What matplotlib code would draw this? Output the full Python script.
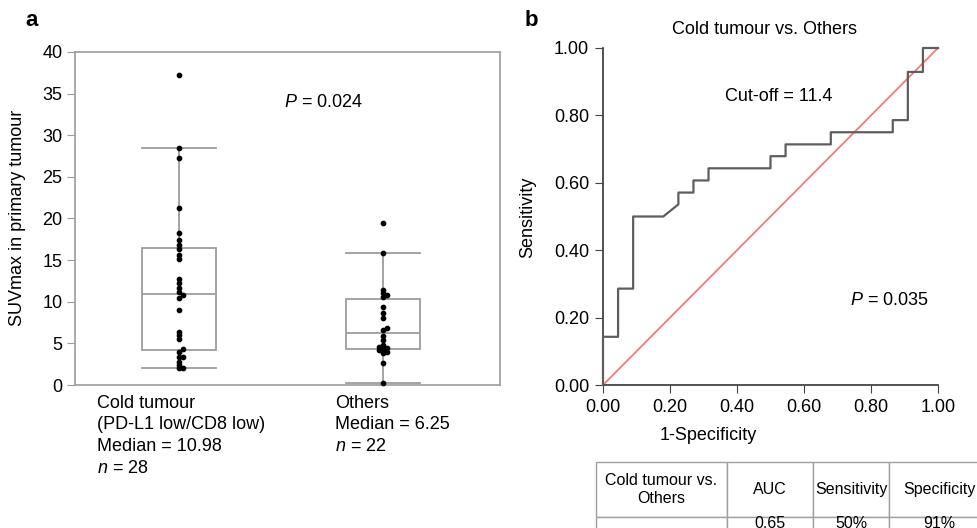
import matplotlib
matplotlib.use('Agg')
import matplotlib.pyplot as plt
import numpy as np

plt.rcParams['font.family'] = ['Liberation Sans', 'DejaVu Sans']
plt.rcParams['mathtext.fontset'] = 'custom'
plt.rcParams['mathtext.it'] = 'Liberation Sans:italic'
plt.rcParams['mathtext.rm'] = 'Liberation Sans'

# ---------------- data ----------------
cold_suv = [2.0, 2.0, 2.4, 2.8, 3.4, 3.4, 4.0, 4.3, 5.5, 6.0, 6.4, 9.0, 10.4, 10.76,
            11.2, 11.7, 12.2, 12.7, 15.1, 15.6, 16.3, 16.8, 17.4, 18.2, 21.3, 27.3,
            28.5, 37.2]
others_suv = [0.2, 2.6, 3.9, 4.0, 4.2, 4.3, 4.4, 4.6, 4.8, 5.4, 5.9, 6.6, 6.8, 8.0,
              8.6, 9.4, 10.6, 10.8, 11.0, 11.4, 15.8, 19.4]
group_labels_cold = ['Cold tumour', '(PD-L1 low/CD8 low)', 'Median = 10.98', '$n$ = 28']
group_labels_others = ['Others', 'Median = 6.25', '$n$ = 22']

roc_fpr = [0, 0, 0.045, 0.045, 0.09, 0.09, 0.18, 0.225, 0.225, 0.27, 0.27, 0.315, 0.315,
           0.5, 0.5, 0.545, 0.545, 0.68, 0.68, 0.865, 0.865, 0.91, 0.91, 0.955, 0.955, 1.0]
roc_tpr = [0, 0.143, 0.143, 0.286, 0.286, 0.5, 0.5, 0.536, 0.571, 0.571, 0.607, 0.607,
           0.643, 0.643, 0.679, 0.679, 0.714, 0.714, 0.75, 0.75, 0.786, 0.786, 0.929,
           0.929, 1.0, 1.0]

table_header = ['Cold tumour vs.\nOthers', 'AUC', 'Sensitivity', 'Specificity']
table_row = ['', '0.65', '50%', '91%']

# ---------------- figure ----------------
W, H = 977, 528
fig = plt.figure(figsize=(W / 100, H / 100), dpi=100)

def fx(px):
    return px / W

def fy(py):
    return 1 - py / H

FS = 13
GRAY = '#9c9c9c'

# ---------- panel a ----------
axa = fig.add_axes([fx(75), fy(385), fx(500) - fx(75), fy(52) - fy(385)])
positions = [1, 2]
bw = 0.36
axa.boxplot([cold_suv, others_suv], positions=positions, widths=bw, capwidths=bw,
            showfliers=False, patch_artist=True,
            boxprops=dict(facecolor='white', edgecolor=GRAY, linewidth=1.3),
            whiskerprops=dict(color=GRAY, linewidth=1.3),
            capprops=dict(color=GRAY, linewidth=1.3),
            medianprops=dict(color=GRAY, linewidth=1.3))
axa.set_xlim(0.49, 2.573)
axa.set_ylim(0, 40)

# simple swarm layout computed in pixel space
ypx_per_unit = 333 / 40.0
xpx_per_unit = 425 / (2.573 - 0.49)

def swarm_x(values, center, d=4.0, min_dist=3.0):
    placed = []
    xs = []
    for v in values:
        y = v * ypx_per_unit
        chosen = 0.0
        for k in [0, 1, -1, 2, -2, 3, -3]:
            x = k * d
            if all((x - px) ** 2 + (y - py) ** 2 >= min_dist ** 2 for px, py in placed):
                chosen = x
                break
        placed.append((chosen, y))
        xs.append(center + chosen / xpx_per_unit)
    return xs

for vals, pos in zip([cold_suv, others_suv], positions):
    axa.plot(swarm_x(vals, pos), vals, 'o', color='black', ms=3.1, zorder=5,
             clip_on=False)

axa.set_xticks([])
axa.set_yticks(range(0, 41, 5))
axa.tick_params(axis='y', direction='out', length=6, color=GRAY, labelsize=FS, pad=3)
for s in axa.spines.values():
    s.set_color(GRAY)
    s.set_linewidth(1.2)
axa.text(0.584, 0.847, '$P$ = 0.024', transform=axa.transAxes, ha='center',
         va='center', fontsize=FS)

fig.text(fx(18), fy(218), 'SUVmax in primary tumour', rotation=90, ha='center',
         va='center', fontsize=FS)
for i, lab in enumerate(group_labels_cold):
    fig.text(fx(97), fy(403 + 21.7 * i), lab, ha='left', va='center', fontsize=FS)
for i, lab in enumerate(group_labels_others):
    fig.text(fx(335), fy(403 + 21.7 * i), lab, ha='left', va='center', fontsize=FS)
fig.text(fx(25), fy(20), 'a', fontsize=16, fontweight='bold', ha='left', va='center')

# ---------- panel b ----------
axb = fig.add_axes([fx(603), fy(385), fx(938) - fx(603), fy(48) - fy(385)])
axb.plot(roc_fpr, roc_tpr, color='#5e5e5e', lw=1.6, clip_on=False, zorder=3)
axb.plot([0, 1], [0, 1], color='#f07b7b', lw=1.3, clip_on=False, zorder=2)
axb.set_xlim(0, 1)
axb.set_ylim(0, 1)
ticks = np.arange(0, 1.01, 0.2)
axb.set_xticks(ticks)
axb.set_yticks(ticks)
axb.set_xticklabels(['%.2f' % t for t in ticks])
axb.set_yticklabels(['%.2f' % t for t in ticks])
axb.tick_params(direction='out', length=6, color='#444444', labelsize=FS, pad=4)
axb.spines['top'].set_visible(False)
axb.spines['right'].set_visible(False)
for s in ['left', 'bottom']:
    axb.spines[s].set_color('#444444')
    axb.spines[s].set_linewidth(1.3)
axb.text(0.525, 0.855, 'Cut-off = 11.4', transform=axb.transAxes, ha='center',
         va='center', fontsize=FS)
axb.text(0.854, 0.252, '$P$ = 0.035', transform=axb.transAxes, ha='center',
         va='center', fontsize=FS)
fig.text(fx(765), fy(29), 'Cold tumour vs. Others', ha='center', va='center', fontsize=FS)
fig.text(fx(528), fy(217), 'Sensitivity', rotation=90, ha='center', va='center',
         fontsize=FS)
fig.text(fx(708), fy(436), '1-Specificity', ha='center', va='center', fontsize=FS)
fig.text(fx(525), fy(20), 'b', fontsize=16, fontweight='bold', ha='left', va='center')

# ---------- table ----------
axt = fig.add_axes([fx(596), fy(531), fx(989) - fx(596), fy(462) - fy(531)])
axt.axis('off')
colw = np.array([131, 86, 76, 100], dtype=float)
tbl = axt.table(cellText=[table_header, table_row], colWidths=list(colw / colw.sum()),
                cellLoc='center', bbox=[0, 0, 1, 1])
tbl.auto_set_font_size(False)
tbl.set_fontsize(11.5)
for (r, c), cell in tbl.get_celld().items():
    cell.set_edgecolor('#a0a0a0')
    cell.set_linewidth(1.0)
    cell.set_height(55 if r == 0 else 14)

fig.savefig('out.png', dpi=100)
